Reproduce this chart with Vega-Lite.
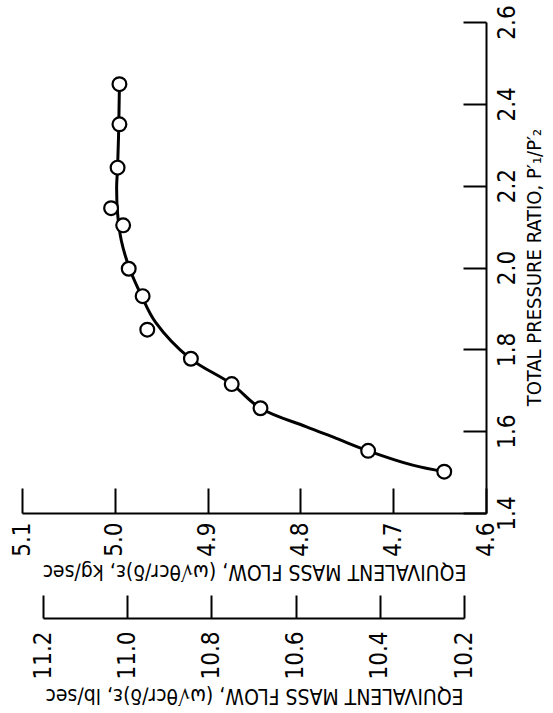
{
  "$schema": "https://vega.github.io/schema/vega-lite/v6.json",
  "autosize": {"type": "none"},
  "padding": {"left": 22, "top": 22, "right": 67, "bottom": 200},
  "width": 464,
  "height": 491,
  "background": "white",
  "config": {
    "view": {"stroke": null},
    "font": "DejaVu Sans Condensed, Liberation Sans Narrow, sans-serif",
    "axis": {"grid": false, "domainColor": "black", "tickColor": "black", "labelColor": "black", "titleColor": "black", "domainWidth": 2, "tickWidth": 2, "labelFontWeight": "normal", "titleFontWeight": "normal", "labelFont": "DejaVu Sans Condensed, Liberation Sans Narrow, sans-serif", "titleFont": "DejaVu Sans Condensed, Liberation Sans Narrow, sans-serif"}
  },
  "datasets": {
    "pts": [
      {"kg": 4.995, "pr": 2.448},
      {"kg": 4.995, "pr": 2.350},
      {"kg": 4.997, "pr": 2.244},
      {"kg": 5.004, "pr": 2.145},
      {"kg": 4.991, "pr": 2.103},
      {"kg": 4.985, "pr": 1.997},
      {"kg": 4.970, "pr": 1.930},
      {"kg": 4.965, "pr": 1.848},
      {"kg": 4.918, "pr": 1.777},
      {"kg": 4.874, "pr": 1.715},
      {"kg": 4.843, "pr": 1.656},
      {"kg": 4.727, "pr": 1.552},
      {"kg": 4.645, "pr": 1.501}
    ],
    "curve": [
      {"kg": 4.645, "pr": 1.501},
      {"kg": 4.679, "pr": 1.517},
      {"kg": 4.727, "pr": 1.552},
      {"kg": 4.762, "pr": 1.583},
      {"kg": 4.794, "pr": 1.611},
      {"kg": 4.843, "pr": 1.656},
      {"kg": 4.874, "pr": 1.715},
      {"kg": 4.919, "pr": 1.778},
      {"kg": 4.956, "pr": 1.866},
      {"kg": 4.971, "pr": 1.930},
      {"kg": 4.984, "pr": 1.997},
      {"kg": 4.993, "pr": 2.066},
      {"kg": 4.997, "pr": 2.132},
      {"kg": 4.998, "pr": 2.198},
      {"kg": 4.997, "pr": 2.244},
      {"kg": 4.996, "pr": 2.319},
      {"kg": 4.995, "pr": 2.448}
    ],
    "lbaxis": [{"lb": 10.2}, {"lb": 11.2}]
  },
  "layer": [
    {
      "layer": [
        {
          "data": {"name": "curve"},
          "mark": {"type": "line", "color": "black", "strokeWidth": 3, "interpolate": "catmull-rom"},
          "encoding": {
            "x": {"field": "kg", "type": "quantitative"},
            "y": {"field": "pr", "type": "quantitative"},
            "order": {"field": "pr", "type": "quantitative"}
          }
        },
        {
          "data": {"name": "pts"},
          "mark": {"type": "point", "shape": "circle", "filled": true, "fill": "white", "stroke": "black", "strokeWidth": 2.2, "size": 190, "opacity": 1},
          "encoding": {
            "x": {"field": "kg", "type": "quantitative"},
            "y": {"field": "pr", "type": "quantitative"}
          }
        }
      ],
      "encoding": {
        "x": {
          "field": "kg", "type": "quantitative",
          "scale": {"domain": [4.6, 5.1], "reverse": true, "nice": false, "zero": false},
          "axis": {
            "orient": "bottom", "values": [4.6, 4.7, 4.8, 4.9, 5.0, 5.1], "format": ".1f",
            "labelAngle": -90, "labelAlign": "right", "labelBaseline": "middle",
            "tickSize": -25, "labelPadding": 34, "labelFlush": false, "labelOverlap": false, "labelBound": false,
            "labelFontSize": 24,
            "title": "EQUIVALENT MASS FLOW,  (ω√θcr/δ)ε,  kg/sec",
            "titleAngle": 180, "titleFontSize": 21, "titleBaseline": "middle", "titleAlign": "center",
            "titleX": 232, "titleY": 57
          }
        },
        "y": {
          "field": "pr", "type": "quantitative",
          "scale": {"domain": [1.4, 2.6], "nice": false, "zero": false},
          "axis": {
            "orient": "right", "values": [1.4, 1.6, 1.8, 2.0, 2.2, 2.4, 2.6], "format": ".1f",
            "labelAngle": -90, "labelAlign": "center", "labelBaseline": "top",
            "tickSize": -23, "labelPadding": 32, "labelFlush": false, "labelOverlap": false, "labelBound": false,
            "labelFontSize": 24,
            "title": "TOTAL PRESSURE RATIO, P′₁/P′₂",
            "titleAngle": -90, "titleFontSize": 20, "titleBaseline": "middle", "titleAlign": "center",
            "titleX": 48, "titleY": 245
          }
        }
      }
    },
    {
      "data": {"name": "lbaxis"},
      "mark": {"type": "point", "opacity": 0},
      "encoding": {
        "x": {
          "field": "lb", "type": "quantitative",
          "scale": {"domain": [10.2, 11.2], "range": [442, 21], "nice": false, "zero": false},
          "axis": {
            "orient": "bottom", "offset": 105, "values": [10.2, 10.4, 10.6, 10.8, 11.0, 11.2], "format": ".1f",
            "labelAngle": -90, "labelAlign": "right", "labelBaseline": "middle",
            "tickSize": -23, "labelPadding": 36, "labelFlush": false, "labelOverlap": false, "labelBound": false,
            "labelFontSize": 24,
            "title": "EQUIVALENT MASS FLOW,  (ω√θcr/δ)ε,  lb/sec",
            "titleAngle": 180, "titleFontSize": 21, "titleBaseline": "middle", "titleAlign": "center",
            "titleX": 232, "titleY": 76
          }
        }
      }
    }
  ],
  "resolve": {"scale": {"x": "independent"}, "axis": {"x": "independent"}}
}
